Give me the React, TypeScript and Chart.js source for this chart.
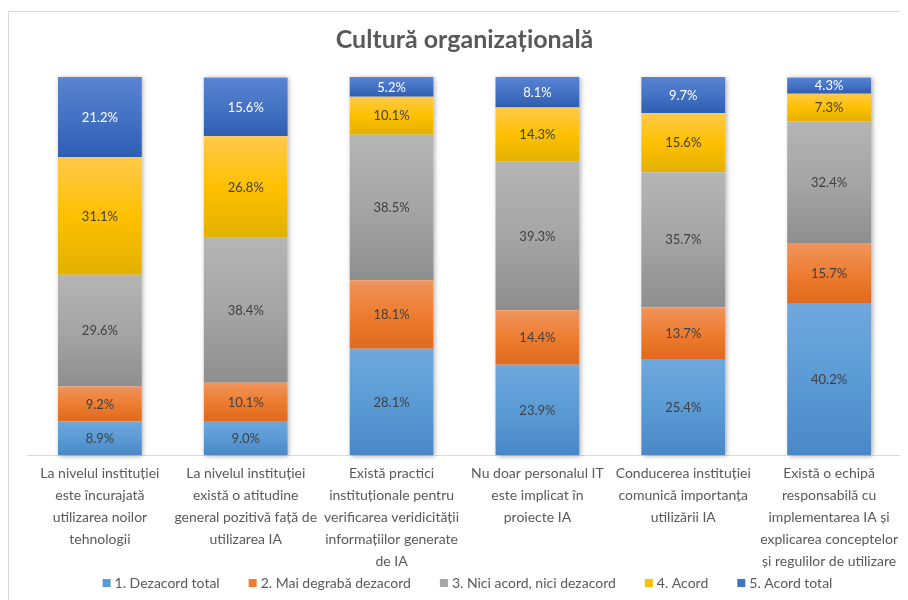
import React, { useEffect, useRef } from "react";
import { Chart, registerables } from "chart.js";

Chart.register(...registerables);

const FONT = "Lato";

const TITLE = "Cultură organizațională";

const categories: string[][] = [
  ["La nivelul instituției", "este încurajată", "utilizarea noilor", "tehnologii"],
  ["La nivelul instituției", "există o atitudine", "general pozitivă față de", "utilizarea IA"],
  ["Există practici", "instituționale pentru", "verificarea veridicității", "informațiilor generate", "de IA"],
  ["Nu doar personalul IT", "este implicat în", "proiecte IA"],
  ["Conducerea instituției", "comunică importanța", "utilizării IA"],
  ["Există o echipă", "responsabilă cu", "implementarea IA și", "explicarea conceptelor", "și regulilor de utilizare"],
];

const seriesNames = [
  "1. Dezacord total",
  "2. Mai degrabă dezacord",
  "3. Nici acord, nici dezacord",
  "4. Acord",
  "5. Acord total",
];

const dezacordTotal = [8.9, 9.0, 28.1, 23.9, 25.4, 40.2];
const maiDegrabaDezacord = [9.2, 10.1, 18.1, 14.4, 13.7, 15.7];
const niciAcordNiciDezacord = [29.6, 38.4, 38.5, 39.3, 35.7, 32.4];
const acord = [31.1, 26.8, 10.1, 14.3, 15.6, 7.3];
const acordTotal = [21.2, 15.6, 5.2, 8.1, 9.7, 4.3];

const series = [dezacordTotal, maiDegrabaDezacord, niciAcordNiciDezacord, acord, acordTotal];

const solidColors = ["#5B9BD5", "#ED7D31", "#A5A5A5", "#FFC000", "#4472C4"];
const gradientTop = ["#6FA8DD", "#F1945C", "#B5B5B5", "#FFC94A", "#5B84D2"];
const gradientBottom = ["#4A87C7", "#E0691C", "#8E8E8E", "#E2B000", "#2F5DB2"];
const labelColors = ["#404040", "#404040", "#404040", "#404040", "#FFFFFF"];

const valueLabelsPlugin = {
  id: "valueLabels",
  afterDatasetsDraw(chart: any) {
    const ctx = chart.ctx;
    ctx.save();
    ctx.font = `13px ${FONT}`;
    ctx.textAlign = "center";
    ctx.textBaseline = "middle";
    series.forEach((vals, i) => {
      const meta = chart.getDatasetMeta(i);
      meta.data.forEach((el: any, j: number) => {
        const { x, y, base } = el.getProps(["x", "y", "base"], true);
        ctx.fillStyle = labelColors[i];
        ctx.fillText(`${vals[j].toFixed(1)}%`, x, (y + base) / 2 + 0.5);
      });
    });
    ctx.restore();
  },
};

const barShadowPlugin = {
  id: "barShadow",
  beforeDatasetsDraw(chart: any) {
    const ctx = chart.ctx;
    const first = chart.getDatasetMeta(0);
    const last = chart.getDatasetMeta(series.length - 1);
    ctx.save();
    ctx.shadowColor = "rgba(0,0,0,0.35)";
    ctx.shadowBlur = 5;
    ctx.shadowOffsetX = 1.5;
    ctx.shadowOffsetY = 1;
    ctx.fillStyle = "#ffffff";
    first.data.forEach((el: any, j: number) => {
      const b = el.getProps(["x", "base", "width"], true);
      const t = last.data[j].getProps(["y"], true);
      ctx.fillRect(b.x - b.width / 2, t.y, b.width, b.base - t.y);
    });
    ctx.restore();
  },
};

const legendPlugin = {
  id: "customLegend",
  afterDraw(chart: any) {
    const ctx = chart.ctx;
    const box = 8;
    const gap = 4;
    const itemGap = 29;
    ctx.save();
    ctx.font = `14px ${FONT}`;
    const widths = seriesNames.map((n) => ctx.measureText(n).width);
    const total =
      widths.reduce((a, b) => a + b, 0) + seriesNames.length * (box + gap) + itemGap * (seriesNames.length - 1);
    const area = chart.chartArea;
    let x = (area.left + area.right) / 2 - total / 2 + 3;
    const cy = chart.height - 17;
    ctx.textBaseline = "middle";
    ctx.textAlign = "left";
    seriesNames.forEach((n, i) => {
      ctx.fillStyle = solidColors[i];
      ctx.fillRect(x, cy - box / 2, box, box);
      ctx.fillStyle = "#595959";
      ctx.fillText(n, x + box + gap, cy + 0.5);
      x += box + gap + widths[i] + itemGap;
    });
    ctx.restore();
  },
};

export default function App() {
  const canvasRef = useRef<HTMLCanvasElement | null>(null);

  useEffect(() => {
    document.documentElement.style.overflow = "hidden";
    document.body.style.overflow = "hidden";
    const canvas = canvasRef.current;
    if (!canvas) return;

    const datasets = series.map((vals, i) => ({
      label: seriesNames[i],
      data: vals,
      backgroundColor: (c: any) => {
        const chart = c.chart;
        const y = chart.scales && chart.scales.y;
        if (c.type !== "data" || !y) return solidColors[i];
        let start = 0;
        for (let k = 0; k < i; k++) start += series[k][c.dataIndex];
        const end = start + vals[c.dataIndex];
        const top = y.getPixelForValue(end);
        const bot = y.getPixelForValue(start);
        if (!isFinite(top) || !isFinite(bot) || top === bot) return solidColors[i];
        const g = chart.ctx.createLinearGradient(0, top, 0, bot);
        g.addColorStop(0, gradientTop[i]);
        g.addColorStop(0.5, solidColors[i]);
        g.addColorStop(1, gradientBottom[i]);
        return g;
      },
      borderWidth: 0,
      barPercentage: 0.575,
      categoryPercentage: 1,
    }));

    const chart = new Chart(canvas, {
      type: "bar",
      data: { labels: categories, datasets },
      options: {
        responsive: false,
        animation: false,
        devicePixelRatio: 1,
        layout: { padding: { left: 18, right: 6, top: 0, bottom: 21 } },
        plugins: {
          legend: { display: false },
          tooltip: { enabled: false },
          title: {
            display: true,
            text: TITLE,
            color: "#595959",
            font: { family: FONT, size: 25, weight: "bold", lineHeight: 1.2 },
            padding: { top: 13, bottom: 22 },
          },
        },
        scales: {
          x: {
            stacked: true,
            offset: true,
            grid: { display: false, drawTicks: false },
            border: { display: true, color: "#D9D9D9", width: 1 },
            ticks: {
              color: "#595959",
              font: { family: FONT, size: 14, lineHeight: 22 / 14 },
              padding: 7,
              maxRotation: 0,
              minRotation: 0,
              autoSkip: false,
            },
          },
          y: {
            stacked: true,
            display: false,
            min: 0,
            max: 100,
          },
        },
      },
      plugins: [barShadowPlugin, valueLabelsPlugin, legendPlugin],
    });

    return () => chart.destroy();
  }, []);

  return (
    <div
      style={{
        marginTop: 3,
        borderLeft: "1px solid #D9D9D9",
        borderTop: "1px solid #D9D9D9",
        width: 899,
        height: 588,
        background: "#ffffff",
      }}
    >
      <canvas ref={canvasRef} width={899} height={588} style={{ display: "block" }} />
    </div>
  );
}
